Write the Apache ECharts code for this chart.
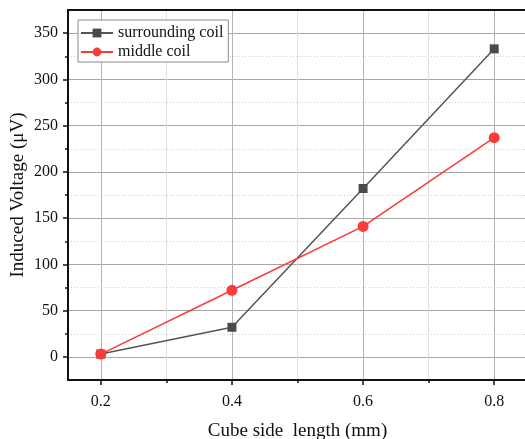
<!DOCTYPE html>
<html>
<head>
<meta charset="utf-8">
<script src="https://cdn.jsdelivr.net/npm/echarts@6/dist/echarts.min.js"></script>
<style>
  html, body { margin: 0; padding: 0; background: #fff; }
  #chart { width: 525px; height: 439px; }
</style>
</head>
<body>
<div id="chart"></div>
<script>
// Cube side length (mm)
const sideLengths = [0.2, 0.4, 0.6, 0.8];
// Induced voltage (µV) per coil
const surroundingCoil = [3, 32, 182, 333];
const middleCoil = [3, 72, 141, 237];
// Axis tick values
const xMajorTicks = [0.2, 0.4, 0.6, 0.8];
const xMinorTicks = [0.3, 0.5, 0.7];
const yMajorTicks = [0, 50, 100, 150, 200, 250, 300, 350];
const yMinorTicks = [25, 75, 125, 175, 225, 275, 325];

const serif = 'Liberation Serif';
const X_MIN = 0.15, X_MAX = 0.85, Y_MIN = -25, Y_MAX = 375;

const pairs = (ys) => sideLengths.map((x, i) => [x, ys[i]]);

const baseX = { type: 'value', min: X_MIN, max: X_MAX, gridIndex: 0 };
const baseY = { type: 'value', min: Y_MIN, max: Y_MAX, gridIndex: 0 };
const off = { show: false };

const option = {
  animation: false,
  backgroundColor: '#fff',
  grid: { left: 68, top: 10, width: 459, bottom: 59, containLabel: false, outerBoundsMode: 'none' },
  legend: {
    orient: 'vertical',
    left: 78,
    top: 20,
    data: ['surrounding coil', 'middle coil'],
    backgroundColor: '#fff',
    borderColor: '#8a8a8a',
    borderWidth: 1,
    borderRadius: 0,
    padding: [5, 5, 2, 2],
    itemGap: 3,
    itemWidth: 32,
    itemHeight: 11,
    textStyle: { fontFamily: serif, fontSize: 16, color: '#111' }
  },
  xAxis: [
    // data axis: frame line + vertical grid
    Object.assign({}, baseX, {
      position: 'bottom',
      interval: 0.05,
      axisLine: { show: true, onZero: false, lineStyle: { color: '#111', width: 2 } },
      axisTick: off,
      axisLabel: off,
      splitLine: {
        show: true,
        lineStyle: { width: 1, type: 'solid',
          color: ['rgba(0,0,0,0)', '#b4b4b4', 'rgba(0,0,0,0)', '#e0e0e0'] }
      }
    }),
    // major ticks, labels and name
    Object.assign({}, baseX, {
      position: 'bottom',
      axisLine: { show: false, onZero: false },
      axisTick: { show: true, inside: false, length: 5, customValues: xMajorTicks,
        lineStyle: { color: '#111', width: 1.5 } },
      axisLabel: { show: true, customValues: xMajorTicks, margin: 14,
        fontFamily: serif, fontSize: 16, color: '#111',
        formatter: (v) => v.toFixed(1) },
      splitLine: off,
      name: 'Cube side  length (mm)',
      nameLocation: 'middle',
      nameGap: 42,
      nameMoveOverlap: false,
      nameTextStyle: { fontFamily: serif, fontSize: 19, color: '#111' }
    }),
    // minor ticks
    Object.assign({}, baseX, {
      position: 'bottom',
      axisLine: { show: false, onZero: false },
      axisTick: { show: true, inside: false, length: 3, customValues: xMinorTicks,
        lineStyle: { color: '#111', width: 1.5 } },
      axisLabel: off,
      splitLine: off
    }),
    // top frame line
    Object.assign({}, baseX, {
      position: 'top',
      axisLine: { show: true, onZero: false, lineStyle: { color: '#111', width: 2 } },
      axisTick: off,
      axisLabel: off,
      splitLine: off
    })
  ],
  yAxis: [
    // data axis: frame line + solid horizontal grid at every 50
    Object.assign({}, baseY, {
      position: 'left',
      interval: 25,
      axisLine: { show: true, onZero: false, lineStyle: { color: '#111', width: 2 } },
      axisTick: off,
      axisLabel: off,
      splitLine: {
        show: true,
        lineStyle: { width: 1, type: 'solid', color: ['rgba(0,0,0,0)', '#a6a6a6'] }
      }
    }),
    // major ticks, labels and name
    Object.assign({}, baseY, {
      position: 'left',
      axisLine: { show: false, onZero: false },
      axisTick: { show: true, inside: false, length: 5, customValues: yMajorTicks,
        lineStyle: { color: '#111', width: 1.5 } },
      axisLabel: { show: true, customValues: yMajorTicks, margin: 10,
        fontFamily: serif, fontSize: 16, color: '#111' },
      splitLine: off,
      name: 'Induced Voltage (μV)',
      nameLocation: 'middle',
      nameGap: 40,
      nameMoveOverlap: false,
      nameTextStyle: { fontFamily: serif, fontSize: 19, color: '#111' }
    }),
    // minor ticks
    Object.assign({}, baseY, {
      position: 'left',
      axisLine: { show: false, onZero: false },
      axisTick: { show: true, inside: false, length: 3, customValues: yMinorTicks,
        lineStyle: { color: '#111', width: 1.5 } },
      axisLabel: off,
      splitLine: off
    }),
    // dotted horizontal grid halfway between the major lines
    Object.assign({}, baseY, {
      position: 'left',
      interval: 50,
      axisLine: off,
      axisTick: off,
      axisLabel: off,
      splitLine: { show: true, lineStyle: { width: 1, type: [1, 2], color: '#cfcfcf' } }
    })
  ],
  series: [
    {
      name: 'surrounding coil',
      type: 'line',
      xAxisIndex: 0,
      yAxisIndex: 0,
      data: pairs(surroundingCoil),
      symbol: 'rect',
      symbolSize: 9,
      color: '#4a4a4a',
      lineStyle: { color: '#555', width: 1.5 },
      itemStyle: { color: '#4a4a4a' },
      z: 3
    },
    {
      name: 'middle coil',
      type: 'line',
      xAxisIndex: 0,
      yAxisIndex: 0,
      data: pairs(middleCoil),
      symbol: 'circle',
      symbolSize: 11,
      color: '#fb3a3a',
      lineStyle: { color: '#fb3a3a', width: 1.5 },
      itemStyle: { color: '#fb3a3a' },
      z: 4
    }
  ]
};

const chart = echarts.init(document.getElementById('chart'), null, { renderer: 'canvas' });
chart.setOption(option);
</script>
</body>
</html>
